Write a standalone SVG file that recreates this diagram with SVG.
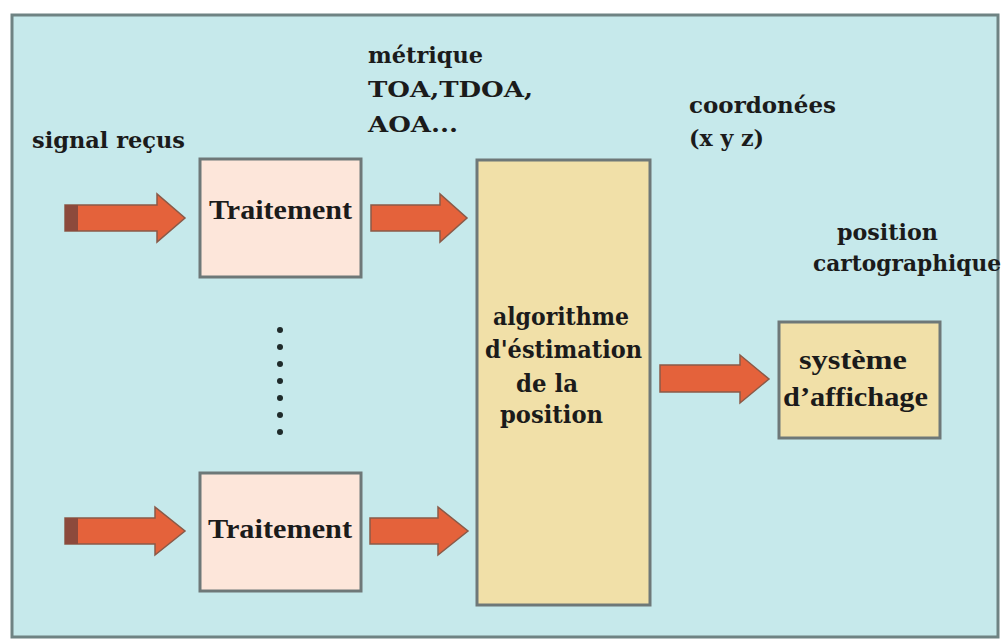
<svg xmlns="http://www.w3.org/2000/svg" width="1007" height="640" viewBox="0 0 1007 640">
<style>
.frame{fill:#C6E9EB;stroke:#6F8383;stroke-width:3}
.box{stroke:#6E7878;stroke-width:3}
.trait{fill:#FDE6DA}
.algo{fill:#F1E0A8}
.t{font-family:"DejaVu Serif","Liberation Serif",serif;font-weight:bold;fill:#1B1B1B}
.lbl{font-size:23px}
.bt{font-size:24px}
.tn{font-family:"Liberation Serif","DejaVu Serif",serif;font-weight:bold;fill:#1B1B1B;font-size:28px}
.arrow{fill:#E4623B;stroke:#8A5A48;stroke-width:1.5;stroke-linejoin:miter}
.tail{fill:#8C4A3C}
.dot{fill:#1F2A2A}
</style>
<rect x="0" y="0" width="1007" height="640" fill="#FFFFFF"/>
<rect class="frame" x="12" y="15" width="986" height="622"/>

<g id="label-signal"><text class="t lbl" x="32" y="148" textLength="153" lengthAdjust="spacingAndGlyphs">signal reçus</text></g>
<g id="label-metrique">
<text class="t lbl" x="368" y="63" textLength="115" lengthAdjust="spacingAndGlyphs">métrique</text>
<text class="t lbl" x="368" y="97" textLength="165" lengthAdjust="spacingAndGlyphs">TOA,TDOA,</text>
<text class="t lbl" x="368" y="132" textLength="90" lengthAdjust="spacingAndGlyphs">AOA...</text>
</g>
<g id="label-coord">
<text class="t lbl" x="689" y="113" textLength="147" lengthAdjust="spacingAndGlyphs">coordonées</text>
<text class="t lbl" x="689" y="146" textLength="75" lengthAdjust="spacingAndGlyphs">(x y z)</text>
</g>
<g id="label-carto">
<text class="t lbl" x="837" y="240" textLength="101" lengthAdjust="spacingAndGlyphs">position</text>
<text class="t lbl" x="813" y="271" textLength="188" lengthAdjust="spacingAndGlyphs">cartographique</text>
</g>

<g id="traitement1">
<rect class="box trait" x="200" y="159" width="161" height="118"/>
<text class="tn" x="209" y="219" textLength="143" lengthAdjust="spacingAndGlyphs">Traitement</text>
</g>
<g id="traitement2">
<rect class="box trait" x="200" y="473" width="161" height="118"/>
<text class="tn" x="208" y="538" textLength="144" lengthAdjust="spacingAndGlyphs">Traitement</text>
</g>
<g id="algorithme">
<rect class="box algo" x="477" y="160" width="173" height="445"/>
<text class="t bt" x="493" y="325" textLength="136" lengthAdjust="spacingAndGlyphs">algorithme</text>
<text class="t bt" x="485" y="358" textLength="157" lengthAdjust="spacingAndGlyphs">d'éstimation</text>
<text class="t bt" x="516" y="392" textLength="62" lengthAdjust="spacingAndGlyphs">de la</text>
<text class="t bt" x="500" y="423" textLength="103" lengthAdjust="spacingAndGlyphs">position</text>
</g>
<g id="affichage">
<rect class="box algo" x="779" y="322" width="161" height="116"/>
<text class="tn" x="799" y="369" textLength="108" lengthAdjust="spacingAndGlyphs">système</text>
<text class="tn" x="783" y="406" textLength="145" lengthAdjust="spacingAndGlyphs">d’affichage</text>
</g>

<g id="ellipsis">
<circle class="dot" cx="280" cy="330" r="3"/>
<circle class="dot" cx="280" cy="347" r="3"/>
<circle class="dot" cx="280" cy="364" r="3"/>
<circle class="dot" cx="280" cy="381" r="3"/>
<circle class="dot" cx="280" cy="398" r="3"/>
<circle class="dot" cx="280" cy="415" r="3"/>
<circle class="dot" cx="280" cy="432" r="3"/>
</g>

<g id="connectors">
<path class="arrow" d="M65,205 L157,205 L157,194 L185,218 L157,242 L157,231 L65,231 Z"/>
<rect class="tail" x="65" y="205" width="13" height="26"/>
<path class="arrow" d="M371,205 L440,205 L440,194 L467,218 L440,242 L440,231 L371,231 Z"/>
<path class="arrow" d="M65,518 L155,518 L155,507 L185,531 L155,555 L155,544 L65,544 Z"/>
<rect class="tail" x="65" y="518" width="13" height="26"/>
<path class="arrow" d="M370,518 L438,518 L438,507 L468,531 L438,555 L438,544 L370,544 Z"/>
<path class="arrow" d="M660,365 L740,365 L740,355 L769,379 L740,403 L740,392 L660,392 Z"/>
</g>
</svg>
